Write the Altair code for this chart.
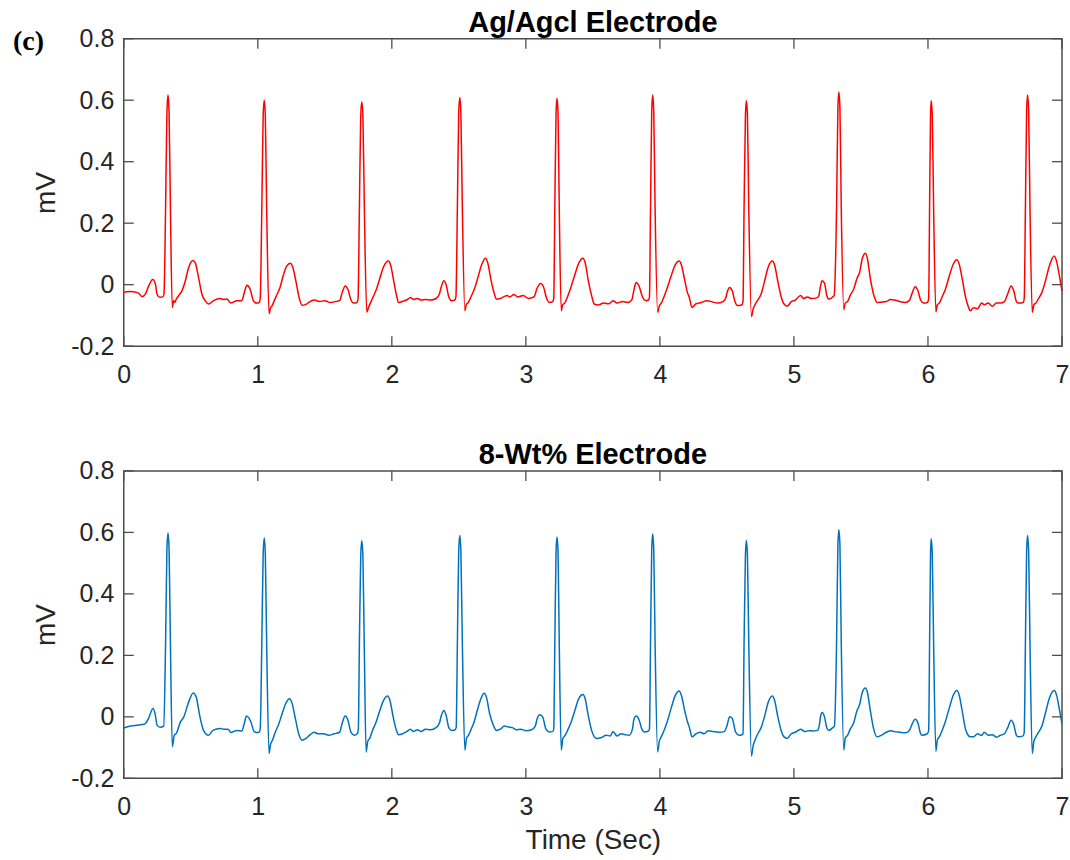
import altair as alt
import pandas as pd

# ---- ECG traces (time in seconds, amplitude in mV) ----
agcl_t = [
    0.000, 0.040, 0.074, 0.112, 0.136, 0.161, 0.186, 0.216, 0.236, 0.248, 0.268, 0.293,
    0.300, 0.312, 0.322, 0.330, 0.338, 0.348, 0.362, 0.372, 0.380, 0.392, 0.409, 0.434,
    0.459, 0.484, 0.516, 0.533, 0.558, 0.583, 0.608, 0.632, 0.670, 0.719, 0.745, 0.769,
    0.799, 0.843, 0.880, 0.900, 0.918, 0.943, 0.967, 0.990, 1.010,
    1.018, 1.030, 1.040, 1.048, 1.056, 1.066, 1.084, 1.095, 1.105, 1.120, 1.140, 1.165,
    1.190, 1.215, 1.243, 1.260, 1.285, 1.310, 1.330, 1.355, 1.390, 1.420, 1.460, 1.500,
    1.540, 1.580, 1.610, 1.630, 1.652, 1.672, 1.695, 1.714, 1.740,
    1.748, 1.758, 1.768, 1.776, 1.784, 1.795, 1.813, 1.825, 1.840, 1.860, 1.885, 1.910,
    1.940, 1.974, 1.990, 2.015, 2.035, 2.050, 2.075, 2.110, 2.140, 2.160, 2.190, 2.220,
    2.250, 2.290, 2.330, 2.355, 2.370, 2.388, 2.405, 2.425, 2.446, 2.470,
    2.478, 2.489, 2.499, 2.507, 2.515, 2.526, 2.545, 2.555, 2.570, 2.590, 2.615, 2.640,
    2.670, 2.698, 2.715, 2.740, 2.765, 2.780, 2.810, 2.840, 2.860, 2.880, 2.910, 2.940,
    2.980, 3.020, 3.060, 3.085, 3.110, 3.130, 3.155, 3.177, 3.200,
    3.208, 3.216, 3.225, 3.232, 3.240, 3.249, 3.264, 3.275, 3.290, 3.310, 3.335, 3.360,
    3.395, 3.425, 3.442, 3.465, 3.490, 3.510, 3.540, 3.580, 3.620, 3.650, 3.680, 3.720,
    3.760, 3.790, 3.805, 3.822, 3.845, 3.870, 3.896, 3.915,
    3.922, 3.930, 3.939, 3.946, 3.954, 3.964, 3.983, 3.995, 4.010, 4.030, 4.055, 4.085,
    4.115, 4.144, 4.160, 4.185, 4.205, 4.219, 4.240, 4.270, 4.310, 4.350, 4.390, 4.430,
    4.470, 4.490, 4.505, 4.520, 4.540, 4.560, 4.578, 4.610,
    4.620, 4.628, 4.638, 4.645, 4.653, 4.663, 4.683, 4.695, 4.710, 4.730, 4.755, 4.780,
    4.810, 4.839, 4.855, 4.880, 4.905, 4.926, 4.950, 4.980, 5.010, 5.050, 5.070, 5.100,
    5.130, 5.170, 5.186, 5.198, 5.210, 5.228, 5.245, 5.260, 5.290,
    5.300, 5.318, 5.328, 5.335, 5.343, 5.353, 5.372, 5.382, 5.400, 5.420, 5.445, 5.470,
    5.490, 5.510, 5.533, 5.548, 5.570, 5.600, 5.620, 5.650, 5.690, 5.720, 5.750, 5.790,
    5.830, 5.860, 5.880, 5.905, 5.925, 5.945, 5.967, 5.995,
    6.005, 6.012, 6.019, 6.024, 6.032, 6.042, 6.059, 6.070, 6.085, 6.105, 6.130, 6.160,
    6.190, 6.215, 6.232, 6.255, 6.280, 6.300, 6.315, 6.340, 6.370, 6.400, 6.420, 6.450,
    6.480, 6.510, 6.540, 6.570, 6.595, 6.620, 6.640, 6.660, 6.674, 6.710,
    6.718, 6.727, 6.736, 6.743, 6.751, 6.761, 6.778, 6.790, 6.805, 6.825, 6.850, 6.875,
    6.905, 6.942, 6.960, 6.980, 7.000,
]
agcl_mv = [
    -0.025, -0.022, -0.023, -0.028, -0.039, -0.031, -0.004, 0.017, 0.002, -0.031, -0.041, -0.039,
    -0.030, 0.250, 0.560, 0.617, 0.560, 0.250, -0.074, -0.052, -0.058, -0.047, -0.036, -0.020,
    0.012, 0.056, 0.079, 0.072, 0.023, -0.031, -0.052, -0.063, -0.052, -0.045, -0.048, -0.047,
    -0.060, -0.052, -0.052, -0.025, -0.002, -0.015, -0.052, -0.060, -0.058,
    -0.045, 0.250, 0.550, 0.600, 0.550, 0.250, -0.095, -0.075, -0.070, -0.055, -0.035, -0.010,
    0.030, 0.060, 0.070, 0.058, 0.010, -0.045, -0.067, -0.065, -0.055, -0.050, -0.055, -0.052,
    -0.058, -0.055, -0.052, -0.025, -0.004, -0.015, -0.050, -0.060, -0.058,
    -0.045, 0.250, 0.550, 0.595, 0.550, 0.250, -0.090, -0.075, -0.060, -0.040, -0.015, 0.020,
    0.060, 0.077, 0.065, 0.010, -0.035, -0.058, -0.055, -0.050, -0.042, -0.048, -0.045, -0.050,
    -0.048, -0.050, -0.045, -0.030, -0.005, 0.013, 0.000, -0.040, -0.052, -0.050,
    -0.040, 0.250, 0.560, 0.609, 0.560, 0.250, -0.085, -0.065, -0.058, -0.040, -0.015, 0.020,
    0.065, 0.086, 0.072, 0.015, -0.030, -0.047, -0.045, -0.038, -0.035, -0.040, -0.032, -0.040,
    -0.035, -0.045, -0.040, -0.010, 0.004, -0.005, -0.045, -0.058, -0.055,
    -0.045, 0.250, 0.555, 0.606, 0.555, 0.250, -0.085, -0.065, -0.060, -0.040, -0.010, 0.025,
    0.070, 0.086, 0.072, 0.015, -0.035, -0.063, -0.066, -0.060, -0.062, -0.052, -0.060, -0.055,
    -0.058, -0.050, -0.020, 0.007, -0.005, -0.040, -0.052, -0.050,
    -0.040, 0.250, 0.565, 0.617, 0.565, 0.250, -0.090, -0.070, -0.060, -0.040, -0.010, 0.030,
    0.065, 0.077, 0.065, 0.015, -0.025, -0.041, -0.074, -0.062, -0.058, -0.052, -0.056, -0.060,
    -0.055, -0.045, -0.020, -0.009, -0.020, -0.055, -0.068, -0.066,
    -0.055, 0.250, 0.550, 0.598, 0.550, 0.250, -0.104, -0.080, -0.065, -0.050, -0.030, 0.010,
    0.060, 0.077, 0.065, 0.010, -0.040, -0.063, -0.070, -0.055, -0.050, -0.035, -0.045, -0.040,
    -0.045, -0.043, -0.035, -0.005, 0.013, 0.005, -0.035, -0.047, -0.040,
    -0.035, 0.250, 0.575, 0.627, 0.575, 0.250, -0.081, -0.060, -0.055, -0.035, -0.015, 0.020,
    0.040, 0.085, 0.102, 0.085, 0.020, -0.040, -0.058, -0.057, -0.055, -0.048, -0.050, -0.055,
    -0.058, -0.052, -0.030, -0.007, -0.020, -0.050, -0.060, -0.058,
    -0.045, 0.250, 0.550, 0.598, 0.550, 0.250, -0.088, -0.065, -0.060, -0.040, -0.015, 0.030,
    0.068, 0.081, 0.068, 0.020, -0.040, -0.070, -0.085, -0.075, -0.078, -0.060, -0.065, -0.060,
    -0.070, -0.060, -0.060, -0.055, -0.030, -0.004, -0.020, -0.055, -0.060, -0.058,
    -0.045, 0.250, 0.565, 0.617, 0.565, 0.250, -0.090, -0.065, -0.060, -0.045, -0.025, 0.010,
    0.060, 0.093, 0.075, 0.030, -0.020,
]

wt8_t = [
    0.000, 0.050, 0.099, 0.136, 0.161, 0.186, 0.218, 0.236, 0.248, 0.273, 0.298,
    0.312, 0.322, 0.330, 0.338, 0.348, 0.362, 0.377, 0.392, 0.422, 0.447, 0.484,
    0.518, 0.541, 0.566, 0.595, 0.632, 0.665, 0.719, 0.745, 0.781, 0.799, 0.843,
    0.880, 0.900, 0.915, 0.948, 0.972, 0.990, 1.010,
    1.018, 1.030, 1.040, 1.048, 1.056, 1.066, 1.084, 1.095, 1.110, 1.130, 1.155, 1.185,
    1.210, 1.237, 1.255, 1.280, 1.305, 1.330, 1.360, 1.390, 1.420, 1.450, 1.490, 1.530,
    1.570, 1.610, 1.630, 1.652, 1.672, 1.695, 1.720, 1.742,
    1.750, 1.758, 1.768, 1.776, 1.784, 1.794, 1.808, 1.820, 1.835, 1.855, 1.880, 1.910,
    1.940, 1.969, 1.985, 2.010, 2.035, 2.050, 2.080, 2.110, 2.140, 2.160, 2.190, 2.220,
    2.250, 2.290, 2.330, 2.355, 2.370, 2.388, 2.405, 2.425, 2.446, 2.470,
    2.480, 2.489, 2.499, 2.507, 2.515, 2.526, 2.545, 2.557, 2.572, 2.592, 2.615, 2.640,
    2.665, 2.689, 2.705, 2.730, 2.760, 2.780, 2.810, 2.840, 2.870, 2.900, 2.930, 2.960,
    3.000, 3.040, 3.070, 3.085, 3.103, 3.125, 3.150, 3.177, 3.200,
    3.208, 3.216, 3.225, 3.232, 3.240, 3.249, 3.264, 3.276, 3.290, 3.310, 3.335, 3.365,
    3.395, 3.425, 3.442, 3.465, 3.495, 3.525, 3.560, 3.600, 3.630, 3.650, 3.680, 3.710,
    3.740, 3.770, 3.795, 3.805, 3.822, 3.845, 3.865, 3.884, 3.915,
    3.922, 3.930, 3.939, 3.946, 3.954, 3.964, 3.983, 3.995, 4.010, 4.030, 4.055, 4.085,
    4.115, 4.144, 4.160, 4.185, 4.205, 4.219, 4.240, 4.270, 4.300, 4.330, 4.360, 4.400,
    4.440, 4.480, 4.500, 4.520, 4.540, 4.565, 4.590, 4.612,
    4.620, 4.628, 4.638, 4.645, 4.653, 4.663, 4.683, 4.695, 4.710, 4.730, 4.755, 4.780,
    4.810, 4.839, 4.855, 4.880, 4.905, 4.926, 4.950, 4.980, 5.010, 5.050, 5.080, 5.110,
    5.140, 5.175, 5.190, 5.198, 5.210, 5.228, 5.245, 5.260, 5.290,
    5.302, 5.318, 5.328, 5.335, 5.343, 5.353, 5.372, 5.382, 5.400, 5.420, 5.445, 5.470,
    5.490, 5.510, 5.533, 5.548, 5.570, 5.595, 5.620, 5.650, 5.690, 5.720, 5.750, 5.790,
    5.830, 5.860, 5.880, 5.905, 5.925, 5.945, 5.955, 5.995,
    6.005, 6.012, 6.019, 6.024, 6.032, 6.042, 6.059, 6.070, 6.085, 6.105, 6.130, 6.160,
    6.190, 6.215, 6.232, 6.255, 6.280, 6.300, 6.315, 6.340, 6.370, 6.400, 6.420, 6.450,
    6.480, 6.510, 6.540, 6.570, 6.595, 6.620, 6.640, 6.660, 6.674, 6.710,
    6.718, 6.727, 6.736, 6.743, 6.751, 6.761, 6.778, 6.790, 6.805, 6.825, 6.850, 6.875,
    6.905, 6.942, 6.960, 6.980, 7.000,
]
wt8_mv = [
    -0.036, -0.030, -0.027, -0.025, -0.022, -0.004, 0.027, 0.005, -0.027, -0.034, -0.030,
    0.240, 0.545, 0.598, 0.545, 0.240, -0.097, -0.060, -0.054, -0.017, -0.001, 0.048,
    0.078, 0.064, 0.005, -0.044, -0.060, -0.044, -0.038, -0.040, -0.041, -0.051, -0.044,
    -0.046, -0.020, 0.003, -0.016, -0.047, -0.051, -0.050,
    -0.040, 0.240, 0.530, 0.582, 0.530, 0.240, -0.119, -0.090, -0.075, -0.050, -0.025, 0.015,
    0.045, 0.059, 0.045, -0.005, -0.055, -0.076, -0.070, -0.058, -0.050, -0.055, -0.055, -0.060,
    -0.055, -0.050, -0.020, 0.003, -0.010, -0.050, -0.060, -0.055,
    -0.040, 0.240, 0.525, 0.573, 0.525, 0.240, -0.114, -0.080, -0.070, -0.045, -0.020, 0.020,
    0.055, 0.068, 0.055, 0.000, -0.045, -0.058, -0.055, -0.048, -0.040, -0.048, -0.042, -0.048,
    -0.040, -0.042, -0.035, -0.020, 0.005, 0.021, 0.005, -0.035, -0.044, -0.043,
    -0.035, 0.240, 0.540, 0.590, 0.540, 0.240, -0.108, -0.070, -0.060, -0.040, -0.015, 0.025,
    0.060, 0.077, 0.065, 0.010, -0.030, -0.044, -0.040, -0.030, -0.033, -0.035, -0.042, -0.040,
    -0.045, -0.043, -0.030, -0.005, 0.007, 0.000, -0.040, -0.049, -0.048,
    -0.040, 0.240, 0.535, 0.585, 0.535, 0.240, -0.108, -0.070, -0.062, -0.045, -0.020, 0.020,
    0.060, 0.073, 0.060, 0.005, -0.050, -0.070, -0.068, -0.060, -0.062, -0.048, -0.062, -0.055,
    -0.058, -0.060, -0.040, -0.010, 0.003, -0.010, -0.040, -0.049, -0.046,
    -0.040, 0.240, 0.545, 0.595, 0.545, 0.240, -0.114, -0.080, -0.065, -0.045, -0.015, 0.030,
    0.070, 0.084, 0.070, 0.020, -0.015, -0.033, -0.065, -0.055, -0.050, -0.055, -0.045, -0.048,
    -0.050, -0.048, -0.030, 0.000, -0.005, -0.050, -0.060, -0.058,
    -0.055, 0.240, 0.525, 0.574, 0.525, 0.240, -0.127, -0.095, -0.075, -0.055, -0.035, 0.000,
    0.050, 0.068, 0.055, 0.000, -0.045, -0.065, -0.070, -0.055, -0.050, -0.040, -0.048, -0.045,
    -0.046, -0.044, -0.025, 0.000, 0.014, 0.000, -0.035, -0.044, -0.035,
    -0.030, 0.240, 0.560, 0.609, 0.560, 0.240, -0.108, -0.070, -0.060, -0.040, -0.020, 0.020,
    0.040, 0.080, 0.094, 0.080, 0.020, -0.040, -0.065, -0.060, -0.050, -0.045, -0.048, -0.050,
    -0.052, -0.045, -0.025, -0.008, -0.020, -0.055, -0.060, -0.055,
    -0.045, 0.240, 0.530, 0.579, 0.530, 0.240, -0.112, -0.075, -0.065, -0.045, -0.015, 0.030,
    0.072, 0.086, 0.072, 0.020, -0.040, -0.060, -0.065, -0.065, -0.055, -0.060, -0.050, -0.060,
    -0.058, -0.066, -0.060, -0.055, -0.035, -0.011, -0.025, -0.060, -0.065, -0.062,
    -0.050, 0.240, 0.540, 0.590, 0.540, 0.240, -0.119, -0.080, -0.065, -0.050, -0.030, 0.010,
    0.060, 0.086, 0.070, 0.025, -0.022,
]

x_ticks = [0, 1, 2, 3, 4, 5, 6, 7]
y_ticks = [-0.2, 0.0, 0.2, 0.4, 0.6, 0.8]

W, H = 940, 308
AXIS_GRAY = "#4d4d4d"
LABEL_GRAY = "#262626"
FONT = "Liberation Sans"

y_label_expr = (
    "datum.value == 0 ? '0' : (datum.value < 0 ? '-' + format(-datum.value, '.1f')"
    " : format(datum.value, '.1f'))"
)


def x_enc(field, show_title):
    return alt.X(
        f"{field}:Q",
        scale=alt.Scale(domain=[0, 7], nice=False, zero=False),
        axis=alt.Axis(
            values=x_ticks,
            format="d",
            title="Time (Sec)" if show_title else None,
            labelFlush=False,
            labelPadding=16,
            titlePadding=7,
        ),
    )


def y_enc(field):
    return alt.Y(
        f"{field}:Q",
        scale=alt.Scale(domain=[-0.2, 0.8], nice=False, zero=False),
        axis=alt.Axis(values=y_ticks, labelExpr=y_label_expr, title="mV", titlePadding=10),
    )


def panel(t_vals, mv_vals, color, title, show_x_title, tag=None):
    trace = pd.DataFrame({"t": t_vals, "mv": mv_vals})
    xt = pd.DataFrame({"t": x_ticks})
    yt = pd.DataFrame({"mv": y_ticks})

    line = alt.Chart(trace).mark_line(color=color, strokeWidth=1.5, interpolate="monotone").encode(
        x=x_enc("t", show_x_title), y=y_enc("mv")
    )
    # inward-pointing tick marks on all four sides of the box
    tick_style = dict(color=AXIS_GRAY, strokeWidth=1.3)
    bottom_ticks = alt.Chart(xt).mark_rule(**tick_style).encode(
        x=x_enc("t", show_x_title), y=alt.value(H), y2=alt.value(H - 10)
    )
    top_ticks = alt.Chart(xt).mark_rule(**tick_style).encode(
        x=x_enc("t", show_x_title), y=alt.value(0), y2=alt.value(10)
    )
    left_ticks = alt.Chart(yt).mark_rule(**tick_style).encode(
        y=y_enc("mv"), x=alt.value(0), x2=alt.value(10)
    )
    right_ticks = alt.Chart(yt).mark_rule(**tick_style).encode(
        y=y_enc("mv"), x=alt.value(W), x2=alt.value(W - 10)
    )
    layers = [line, bottom_ticks, top_ticks, left_ticks, right_ticks]
    if tag is not None:
        tag_layer = alt.Chart(pd.DataFrame({"label": [tag]})).mark_text(
            font="Liberation Serif", fontWeight="bold", fontSize=28,
            align="left", baseline="alphabetic", color="black",
        ).encode(text="label:N", x=alt.value(-111), y=alt.value(11))
        layers.append(tag_layer)
    return alt.layer(*layers).properties(
        width=W,
        height=H,
        title=alt.TitleParams(
            title, fontSize=29, fontWeight="bold", font=FONT, color="black", offset=-11,
        ),
    )


top = panel(agcl_t, agcl_mv, "#ff0000", "Ag/Agcl Electrode", False, tag="(c)")
bottom = panel(wt8_t, wt8_mv, "#0072bd", "8-Wt% Electrode", True)

chart = (
    alt.vconcat(top, bottom, spacing=52)
    .properties(padding={"left": 12, "top": 7, "right": 0, "bottom": 0}, background="white")
    .configure_view(stroke=AXIS_GRAY, strokeWidth=1.5)
    .configure_axis(
        domain=False,
        ticks=False,
        grid=False,
        labelFont=FONT,
        labelFontSize=25,
        labelColor=LABEL_GRAY,
        labelPadding=10,
        titleFont=FONT,
        titleFontSize=28,
        titleFontWeight="normal",
        titleColor=LABEL_GRAY,
    )
)

chart.save("out.html", embed_options={"renderer": "svg", "actions": False})
